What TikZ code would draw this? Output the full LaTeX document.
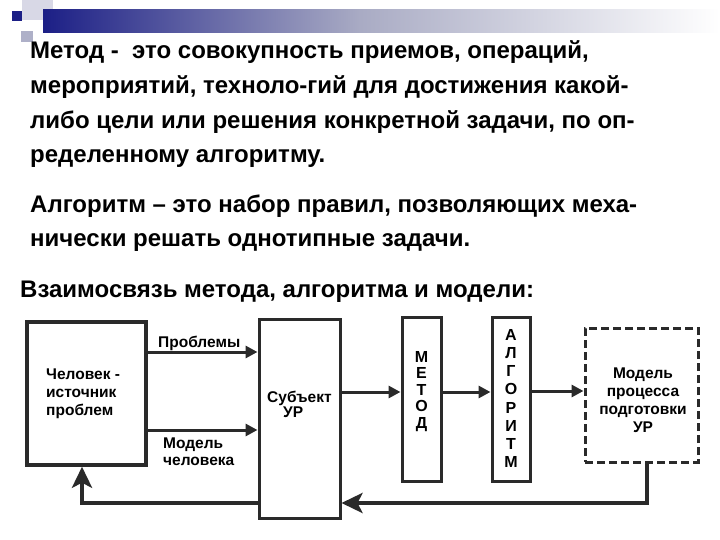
\documentclass[tikz,border=0pt]{standalone}
\usepackage{fontspec}
\setmainfont{Liberation Sans}
\usepackage{tikz}
\usetikzlibrary{arrows.meta}
\definecolor{mdink}{HTML}{000000}
\definecolor{mdline}{HTML}{2A2A2A}
\definecolor{mdnavy}{HTML}{1C1F86}
\definecolor{mdhaze}{HTML}{A9ABC4}
\definecolor{mdpale}{HTML}{D8D8E6}
\definecolor{mdgrey}{HTML}{AEB0C8}
\newcommand{\mdtext}{\fontsize{24}{34.5}\selectfont\bfseries}
\newcommand{\mdsmall}{\fontsize{15.5}{18}\selectfont\bfseries}

\begin{document}
\begin{tikzpicture}[
    x=1pt, y=-1pt,
    every node/.style={inner sep=0pt, color=mdink},
    para/.style={anchor=base west, font=\mdtext},
    block/.style={rectangle, draw=mdline, line width=3pt},
    model/.style={block, dash pattern=on 8pt off 4pt},
    lbl/.style={font=\mdsmall, align=left},
    letters/.style={font=\fontsize{16}{#1}\selectfont\bfseries, align=center, anchor=north},
    flow/.style={-{Triangle[length=12pt, width=12pt]}, draw=mdline, line width=3pt},
    back/.style={-{Stealth[length=21pt, width=20pt, inset=5pt]}, draw=mdline, line width=4.5pt},
  ]

  \useasboundingbox (0,0) rectangle (720,540);
  \fill[white] (0,0) rectangle (720,540);

  \fill[mdpale] (22,0) rectangle (53,20);
  \fill[mdgrey] (21,31) rectangle (33,42);
  \shade[left color=mdnavy, right color=mdhaze] (43,10) rectangle (360,33);
  \shade[left color=mdhaze, right color=white] (360,10) rectangle (720,33);
  \fill[mdnavy] (12,11) rectangle (22,21);

  \node[para] (m1) at (30,59)    {Метод -\ \ это совокупность приемов, операций,};
  \node[para] (m2) at (30,94)    {мероприятий, техноло-гий для достижения какой-};
  \node[para] (m3) at (30,128.5) {либо цели или решения конкретной задачи, по оп-};
  \node[para] (m4) at (30,163)   {ределенному алгоритму.};

  \node[para] (a1) at (30,212) {Алгоритм – это набор правил, позволяющих меха-};
  \node[para] (a2) at (30,246) {нически решать однотипные задачи.};

  \node[para] (vz) at (20,297) {Взаимосвязь метода, алгоритма и модели:};

  \node[block, minimum width=119pt, minimum height=143pt, line width=3.5pt] (chel) at (86.5,393.5) {};
  \node[block, minimum width=81pt, minimum height=199pt] (subj) at (299.5,418.5) {};
  \node[block, minimum width=39pt, minimum height=164pt] (metod) at (421.5,399) {};
  \node[block, minimum width=38pt, minimum height=164pt] (alg) at (511,399) {};
  \node[model, minimum width=113pt, minimum height=134pt] (mproc) at (641.5,395) {};

  \node[lbl, anchor=north west] (chel-t) at (46,369) {Человек -\\источник\\проблем};
  \node[lbl, anchor=north west] (subj-t) at (267,390.5) {Субъект\\[-3pt]\hspace*{16pt}УР};
  \node[letters=16.5] (metod-t) at (421.5,351) {М\\Е\\Т\\О\\Д};
  \node[letters=18.2] (alg-t) at (511,329) {А\\Л\\Г\\О\\Р\\И\\Т\\М};
  \node[lbl, align=center, anchor=north] (mproc-t) at (643,368) {Модель\\процесса\\подготовки\\УР};

  \node[lbl, anchor=base west] (probl-t) at (158,347.5) {Проблемы};
  \node[lbl, anchor=north west] (mchel-t) at (163,438) {Модель\\[-1pt]человека};

  \draw[flow] (chel.east |- 0,352) -- (subj.west |- 0,352);
  \draw[flow] (chel.east |- 0,430) -- (subj.west |- 0,430);
  \draw[flow] (subj.east |- 0,392) -- (metod.west |- 0,392);
  \draw[flow] (metod.east |- 0,392) -- (alg.west |- 0,392);
  \draw[flow] (alg.east |- 0,391) -- (mproc.west |- 0,391);

  \coordinate (fbR) at (647,503);
  \coordinate (fbL) at (82,503);
  \draw[back] (mproc.south -| fbR) -- (fbR) -- (subj.east |- fbR);
  \draw[back] (subj.west |- fbL) -- (fbL) -- (chel.south -| fbL);

\end{tikzpicture}
\end{document}
